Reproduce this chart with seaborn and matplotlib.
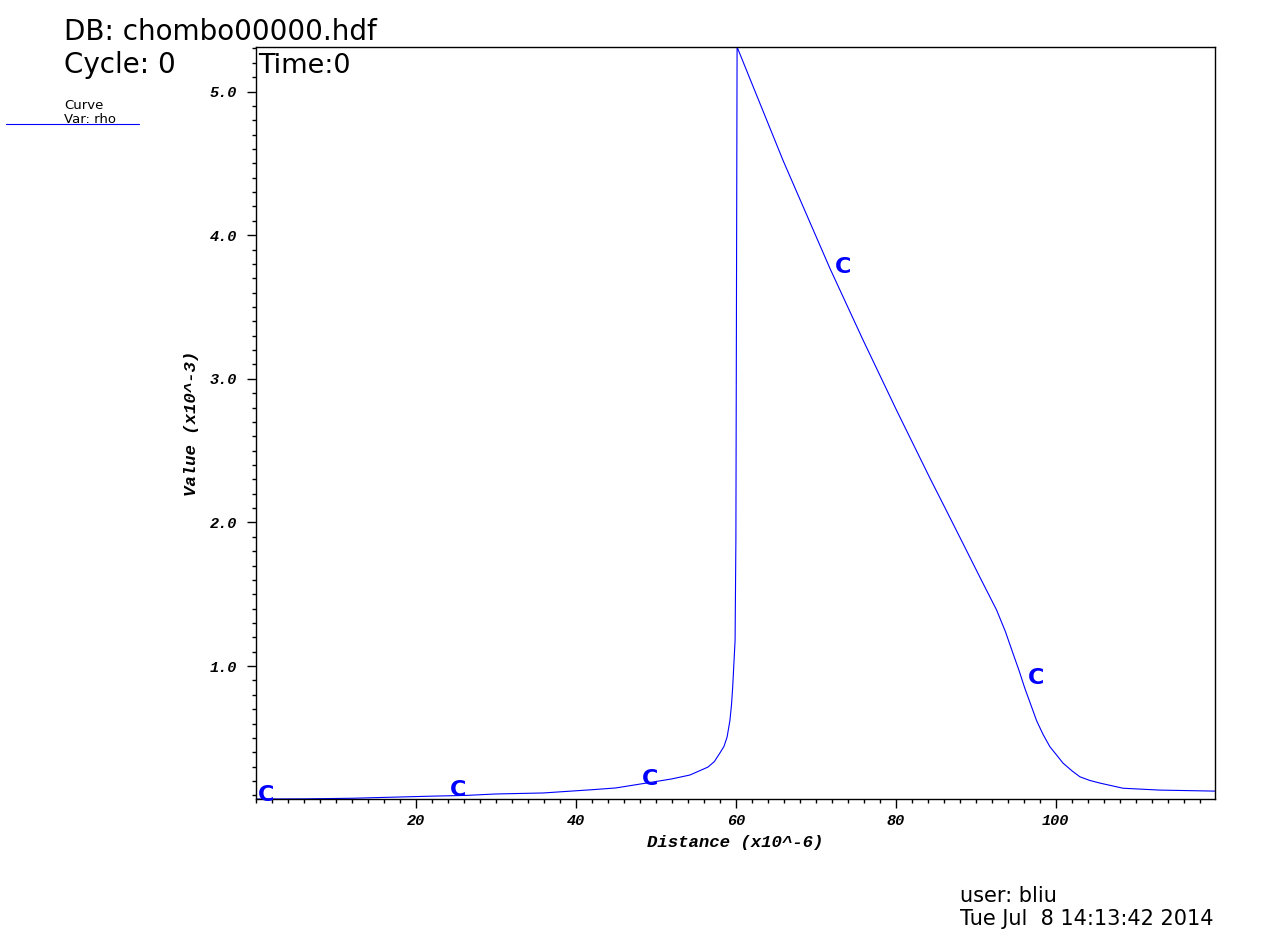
"""VisIt-style curve plot of rho along a line, recreated with seaborn."""

import matplotlib

matplotlib.use("Agg")
import matplotlib.pyplot as plt
import pandas as pd
import seaborn as sns
from matplotlib.lines import Line2D
from matplotlib.ticker import FixedLocator, FormatStrFormatter, MultipleLocator

# curve samples (distance in x10^-6, value in x10^-3)
DISTANCE = [0.0, 6.0, 11.9, 17.3, 22.1, 26.25, 30.0, 35.9, 42.1, 45.0,
            49.25, 52.0, 54.25, 56.5, 57.3, 58.0, 58.5, 58.9, 59.25, 59.45,
            59.6, 59.9, 60.0, 60.15, 65.9, 71.75, 75.9, 80.1, 84.25, 86.3,
            88.4, 90.5, 92.6, 93.7, 94.7, 95.4, 96.1, 97.6, 98.4, 99.25,
            100.9, 102.0, 103.0, 104.2, 105.5, 108.4, 113.0, 119.9]
RHO = [0.075, 0.076, 0.080, 0.088, 0.095, 0.100, 0.110, 0.117, 0.140, 0.152,
       0.190, 0.215, 0.242, 0.297, 0.335, 0.395, 0.44, 0.506, 0.62, 0.73,
       0.854, 1.18, 1.876, 5.31, 4.52, 3.77, 3.27, 2.78, 2.31, 2.085,
       1.853, 1.62, 1.39, 1.24, 1.08, 0.97, 0.85, 0.62, 0.525, 0.44,
       0.325, 0.272, 0.23, 0.205, 0.186, 0.15, 0.137, 0.13]

# "C" curve labels placed along the line
LABEL_X = [1.25, 25.3, 49.3, 73.4, 97.5]
LABEL_Y = [0.105, 0.14, 0.215, 3.78, 0.92]

X_TICKS = [20, 40, 60, 80, 100]
Y_TICKS = [1.0, 2.0, 3.0, 4.0, 5.0]

BLUE = "#0000ff"
MONO = "Liberation Mono"


def main() -> None:
    sns.set_theme(style="ticks")
    plt.rcParams["font.family"] = ["DejaVu Sans"]
    plt.rcParams["text.color"] = "black"

    fig, ax = plt.subplots(figsize=(12.8, 9.42), dpi=100)
    fig.subplots_adjust(left=0.2, right=0.9492, bottom=0.1518, top=0.9501)

    df = pd.DataFrame({"distance": DISTANCE, "rho": RHO})
    sns.lineplot(data=df, x="distance", y="rho", color=BLUE, linewidth=0.8,
                 ax=ax, legend=False)
    for lx, ly in zip(LABEL_X, LABEL_Y):
        ax.text(lx, ly, "C", color=BLUE, fontsize=16, fontweight="bold",
                ha="center", va="center")

    ax.set_xlim(0, 119.9)
    ax.set_ylim(0.075, 5.31)

    ax.xaxis.set_major_locator(FixedLocator(X_TICKS))
    ax.xaxis.set_minor_locator(MultipleLocator(2))
    ax.yaxis.set_major_locator(FixedLocator(Y_TICKS))
    ax.yaxis.set_minor_locator(MultipleLocator(0.1))
    ax.xaxis.set_major_formatter(FormatStrFormatter("%d"))
    ax.yaxis.set_major_formatter(FormatStrFormatter("%.1f"))

    for side in ["left", "right", "top", "bottom"]:
        ax.spines[side].set_visible(True)
        ax.spines[side].set_color("black")
        ax.spines[side].set_linewidth(1.0)
    ax.tick_params(which="both", direction="out", color="black", width=1.0,
                   top=False, right=False)
    ax.tick_params(which="major", length=6.5)
    ax.tick_params(which="minor", length=3.0)
    ax.tick_params(axis="x", which="major", pad=4)
    ax.tick_params(axis="y", which="major", pad=7)
    for lab in ax.get_xticklabels() + ax.get_yticklabels():
        lab.set_fontfamily(MONO)
        lab.set_fontweight("bold")
        lab.set_fontstyle("italic")
        lab.set_fontsize(11)
        lab.set_color("black")

    label_font = dict(family=MONO, weight="bold", style="italic", size=12.5, color="black")
    ax.set_xlabel("Distance (x10^-6)", labelpad=5, **label_font)
    ax.set_ylabel("Value (x10^-3)", labelpad=8, **label_font)

    # header / footer annotations
    fig.text(0.05, 0.958, "DB: chombo00000.hdf", fontsize=20, va="baseline")
    fig.text(0.05, 0.9228, "Cycle: 0", fontsize=20, va="baseline")
    fig.text(0.2016, 0.9228, "Time:0", fontsize=19.5, va="baseline")
    fig.text(0.0502, 0.884, "Curve", fontsize=9.5, va="baseline")
    fig.text(0.0502, 0.869, "Var: rho", fontsize=9.5, va="baseline")
    fig.add_artist(Line2D([6 / 1280, 139 / 1280], [0.8684, 0.8684],
                          transform=fig.transFigure, color=BLUE, linewidth=0.8))
    fig.text(0.75, 0.0428, "user: bliu", fontsize=15, va="baseline")
    fig.text(0.75, 0.018, "Tue Jul  8 14:13:42 2014", fontsize=15, va="baseline")

    fig.savefig("out.png", dpi=100)
    plt.close(fig)


if __name__ == "__main__":
    main()
